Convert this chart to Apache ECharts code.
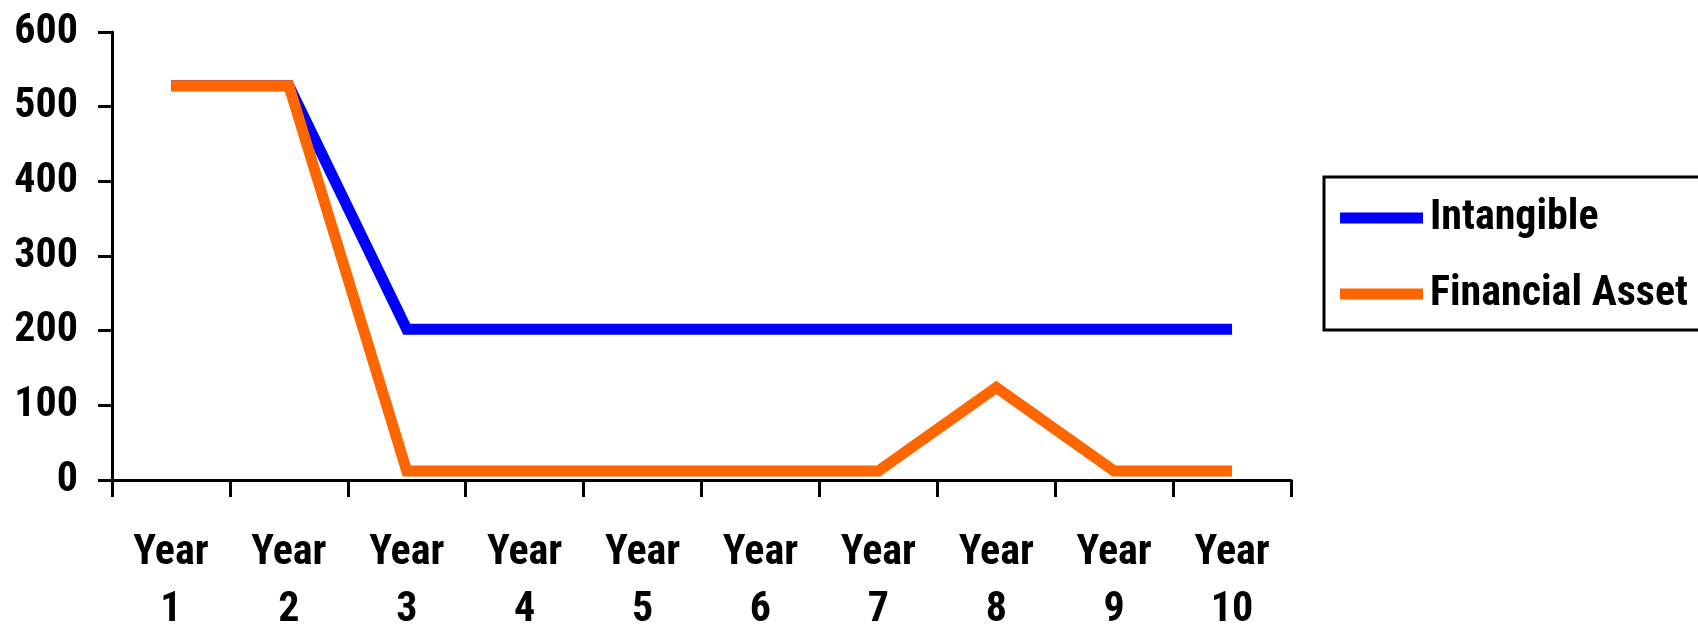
<!DOCTYPE html>
<html>
<head>
<meta charset="utf-8">
<script src="https://cdn.jsdelivr.net/npm/echarts@6/dist/echarts.min.js"></script>
<style>
  html, body { margin: 0; padding: 0; background: #ffffff; }
  #chart { width: 1698px; height: 625px; }
</style>
</head>
<body>
<div id="chart"></div>
<script>
// Categories and series values
var categories = ['Year\n1', 'Year\n2', 'Year\n3', 'Year\n4', 'Year\n5', 'Year\n6', 'Year\n7', 'Year\n8', 'Year\n9', 'Year\n10'];
var intangible = [528, 528, 202, 202, 202, 202, 202, 202, 202, 202];
var financialAsset = [528, 528, 12, 12, 12, 12, 12, 124, 12, 12];
var seriesNames = ['Intangible', 'Financial Asset'];

// Narrow bold face for all chart text
var FONT = "'Roboto Condensed', 'Liberation Sans', Arial, sans-serif";

var chart = echarts.init(document.getElementById('chart'), null, { renderer: 'canvas' });

chart.setOption({
  animation: false,
  backgroundColor: '#ffffff',
  grid: {
    left: 112, right: 407, top: 32, bottom: 145,
    containLabel: false,
    outerBoundsMode: 'none'
  },
  legend: {
    left: 1324,
    top: 177,
    orient: 'vertical',
    data: seriesNames,
    icon: 'rect',
    itemWidth: 83,
    itemHeight: 11,
    itemGap: 24,
    // the box runs past the right edge of the canvas
    padding: [15, 40, 10, 16],
    borderColor: '#000000',
    borderWidth: 3,
    borderRadius: 0,
    textStyle: {
      fontFamily: FONT,
      fontWeight: 'bold',
      fontSize: 42,
      lineHeight: 50,
      color: '#000000',
      padding: [2, 0, 0, 2]
    }
  },
  xAxis: {
    type: 'category',
    data: categories,
    boundaryGap: true,
    axisLine: { lineStyle: { color: '#000000', width: 3 } },
    axisTick: { show: true, length: 17, lineStyle: { color: '#000000', width: 3 } },
    axisLabel: {
      interval: 0,
      margin: 45,
      fontFamily: FONT,
      fontWeight: 'bold',
      fontSize: 42,
      lineHeight: 57,
      color: '#000000'
    },
    splitLine: { show: false }
  },
  yAxis: {
    type: 'value',
    min: 0,
    max: 600,
    interval: 100,
    axisLine: { show: true, lineStyle: { color: '#000000', width: 3 } },
    axisTick: { show: true, length: 14, lineStyle: { color: '#000000', width: 3 } },
    axisLabel: {
      margin: 34,
      fontFamily: FONT,
      fontWeight: 'bold',
      fontSize: 42,
      color: '#000000'
    },
    splitLine: { show: false }
  },
  series: [
    {
      name: seriesNames[0],
      type: 'line',
      data: intangible,
      showSymbol: false,
      symbol: 'none',
      color: '#0000ff',
      lineStyle: { color: '#0000ff', width: 11, join: 'miter', cap: 'butt' },
      z: 2
    },
    {
      name: seriesNames[1],
      type: 'line',
      data: financialAsset,
      showSymbol: false,
      symbol: 'none',
      color: '#ff6600',
      lineStyle: { color: '#ff6600', width: 11, join: 'miter', cap: 'butt' },
      z: 3
    }
  ]
});
</script>
</body>
</html>
